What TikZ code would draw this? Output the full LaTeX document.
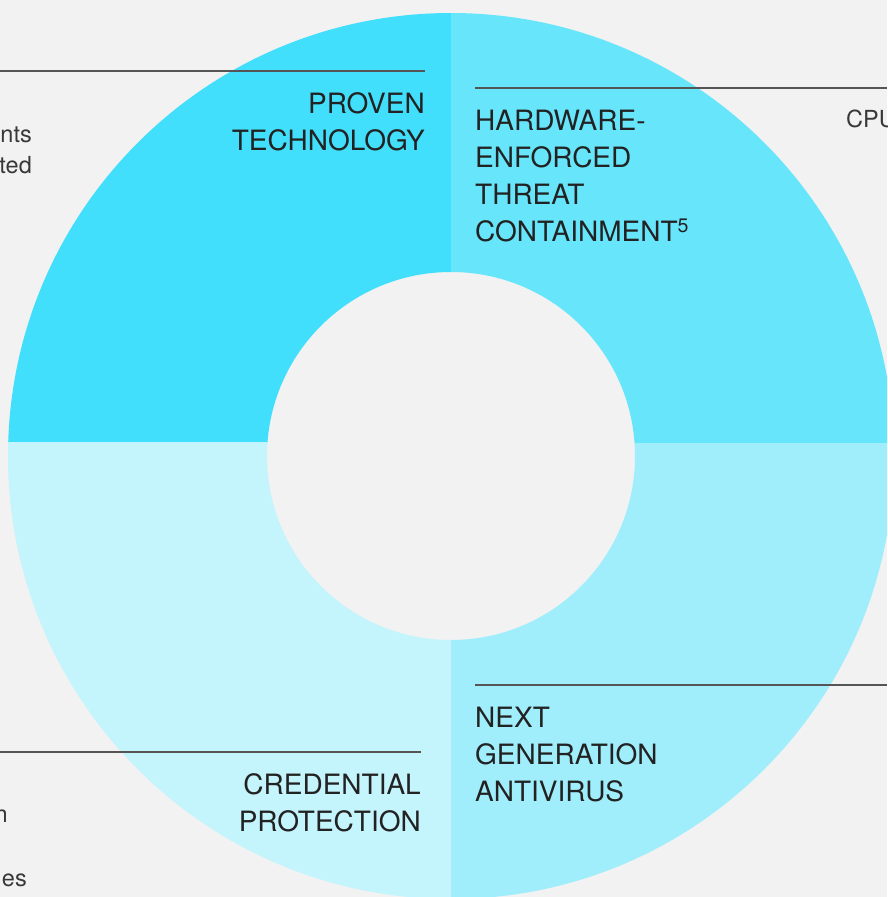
\documentclass[tikz,border=0pt]{standalone}
\usepackage{fontspec}
\setmainfont{TeX Gyre Heros}
\usetikzlibrary{positioning}
\definecolor{paper}{HTML}{F2F2F2}
\definecolor{ringA}{HTML}{42DFFC}
\definecolor{ringB}{HTML}{66E5FB}
\definecolor{ringC}{HTML}{A0EEFB}
\definecolor{ringD}{HTML}{C4F4FC}
\definecolor{ink}{HTML}{222222}
\definecolor{rulegray}{HTML}{555555}
\tikzset{
heading/.style={ % big quadrant titles
text=ink,
inner sep=0pt,
font=\fontsize{28}{37}\selectfont},
aside/.style={ % cut-off side notes
text=ink!90,
inner sep=0pt,
font=\fontsize{23.5}{31}\selectfont},
rule/.style={ % thin lines over the titles
draw=rulegray,
line width=1.6pt}}

\begin{document}
\begin{tikzpicture}[x=1pt,y=-1pt]
	\useasboundingbox[fill=paper] (0,0) rectangle (887,897);
	\coordinate (c) at (451,456);
	% quadrants of the ring
	\begin{scope}
		\clip (0,0) rectangle (451,442);
		\fill[ringA, even odd rule] (c) circle[radius=443pt] (c) circle[radius=184pt];
	\end{scope}
	\begin{scope}
		\clip (451,0) rectangle (887,443);
		\fill[ringB, even odd rule] (c) circle[radius=443pt] (c) circle[radius=184pt];
	\end{scope}
	\begin{scope}
		\clip (451,443) rectangle (887,897);
		\fill[ringC, even odd rule] (c) circle[radius=443pt] (c) circle[radius=184pt];
	\end{scope}
	\begin{scope}
		\clip (0,442) rectangle (451,897);
		\fill[ringD, even odd rule] (c) circle[radius=443pt] (c) circle[radius=184pt];
	\end{scope}
	% rules
	\coordinate (tl0) at (0,71);
	\coordinate (tl1) at (425,71);
	\coordinate (tr0) at (475,88);
	\coordinate (tr1) at (887,88);
	\coordinate (br0) at (475,685);
	\coordinate (br1) at (887,685);
	\coordinate (bl0) at (0,752);
	\coordinate (bl1) at (421,752);
	\draw[rule] (tl0) -- (tl1);
	\draw[rule] (tr0) -- (tr1);
	\draw[rule] (br0) -- (br1);
	\draw[rule] (bl0) -- (bl1);
	% titles
	\node[heading, anchor=north east, align=right] (proven) at (425,92) {PROVEN\\TECHNOLOGY};
	\node[heading, anchor=north west, align=left] (hardware) at (475,110) {HARDWARE-\\ENFORCED\\THREAT\\CONTAINMENT\textsuperscript{5}};
	\node[heading, anchor=north west, align=left] (antivirus) at (475,707) {NEXT\\GENERATION\\ANTIVIRUS};
	\node[heading, anchor=north east, align=right] (credential) at (421,773) {CREDENTIAL\\PROTECTION};
	% side notes
	\node[aside, anchor=base east] (nts) at (32,142) {nts};
	\node[aside, anchor=base east] (ted) at (32,173) {ted};
	\node[aside, anchor=base west] (cpu) at (846,127) {CPU};
	\node[aside, anchor=base east] (n) at (8,822) {n};
	\node[aside, anchor=base east] (es) at (27,886) {es};
\end{tikzpicture}
\end{document}
